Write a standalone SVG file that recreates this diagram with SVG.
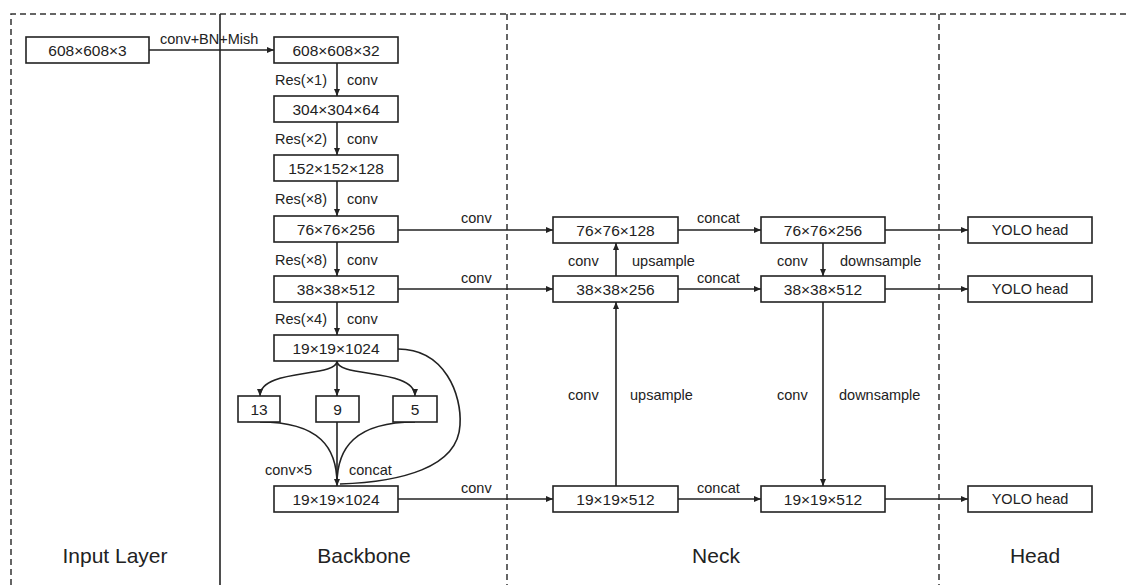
<svg xmlns="http://www.w3.org/2000/svg" width="1126" height="585" viewBox="0 0 1126 585">
<defs>
<marker id="ah" markerWidth="7" markerHeight="6" refX="7" refY="3" orient="auto" markerUnits="userSpaceOnUse"><path d="M0,0 L7,3 L0,6 z" fill="#222"/></marker>
<style>
.box{fill:#fff;stroke:#222;stroke-width:1.6}
.bt{font-family:"Liberation Sans",Arial,sans-serif;font-size:15.5px;fill:#222;text-anchor:middle}
.yh{font-size:14.5px}
.lb{font-family:"Liberation Sans",Arial,sans-serif;font-size:14.5px;fill:#222}
.sec{font-family:"Liberation Sans",Arial,sans-serif;font-size:21px;fill:#222;text-anchor:middle}
.c{fill:none;stroke:#222;stroke-width:1.6}
.ca{fill:none;stroke:#222;stroke-width:1.6;marker-end:url(#ah)}
.dash{fill:none;stroke:#333;stroke-width:1.5;stroke-dasharray:6 4}
</style>
</defs>
<rect width="1126" height="585" fill="#fff"/>
<g id="frame">
<path class="dash" d="M11,585 L11,14 L1126,14"/>
<line x1="220" y1="14" x2="220" y2="585" stroke="#222" stroke-width="1.6"/>
<line class="dash" x1="507" y1="14" x2="507" y2="585"/>
<line class="dash" x1="939" y1="14" x2="939" y2="585"/>
</g>
<g id="connectors">
<line class="ca" x1="149" y1="50" x2="274" y2="50"/>
<line class="ca" x1="337" y1="63" x2="337" y2="96"/>
<line class="ca" x1="337" y1="122" x2="337" y2="155"/>
<line class="ca" x1="337" y1="181" x2="337" y2="216"/>
<line class="ca" x1="337" y1="242" x2="337" y2="276"/>
<line class="ca" x1="337" y1="302" x2="337" y2="335"/>
<line class="ca" x1="398" y1="230" x2="553" y2="230"/>
<line class="ca" x1="398" y1="289" x2="553" y2="289"/>
<line class="ca" x1="398" y1="499" x2="553" y2="499"/>
<line class="ca" x1="678" y1="230" x2="761" y2="230"/>
<line class="ca" x1="678" y1="289" x2="761" y2="289"/>
<line class="ca" x1="678" y1="499" x2="761" y2="499"/>
<line class="ca" x1="885" y1="230" x2="968" y2="230"/>
<line class="ca" x1="885" y1="289" x2="968" y2="289"/>
<line class="ca" x1="885" y1="499" x2="968" y2="499"/>
<line class="ca" x1="616" y1="486" x2="616" y2="302"/>
<line class="ca" x1="616" y1="276" x2="616" y2="243"/>
<line class="ca" x1="823" y1="243" x2="823" y2="276"/>
<line class="ca" x1="823" y1="302" x2="823" y2="486"/>
<path class="ca" d="M337,361 C337,378 260,368 260,396"/>
<path class="ca" d="M337,361 L337,396"/>
<path class="ca" d="M337,361 C337,378 415,368 415,396"/>
<path class="c" d="M260,422 C320,422 337,448 337,484"/>
<path class="c" d="M415,422 C355,422 337,448 337,484"/>
<path class="c" d="M337,422 L337,484"/>
<path class="c" d="M398,349 C445,349 462,395 460,425 C458,468 400,482 340,484"/>
<line class="ca" x1="337" y1="478" x2="337" y2="486"/>
</g>
<g id="n-input"><rect class="box" x="26" y="37" width="123" height="26"/><text class="bt" x="87.5" y="55.5">608×608×3</text></g>
<g id="n-b1"><rect class="box" x="274" y="37" width="124" height="26"/><text class="bt" x="336" y="55.5">608×608×32</text></g>
<g id="n-b2"><rect class="box" x="274" y="96" width="124" height="26"/><text class="bt" x="336" y="114.5">304×304×64</text></g>
<g id="n-b3"><rect class="box" x="274" y="155" width="124" height="26"/><text class="bt" x="336" y="173.5">152×152×128</text></g>
<g id="n-b4"><rect class="box" x="274" y="216" width="124" height="26"/><text class="bt" x="336" y="234.5">76×76×256</text></g>
<g id="n-b5"><rect class="box" x="274" y="276" width="124" height="26"/><text class="bt" x="336" y="294.5">38×38×512</text></g>
<g id="n-b6"><rect class="box" x="274" y="335" width="124" height="26"/><text class="bt" x="336" y="353.5">19×19×1024</text></g>
<g id="n-p13"><rect class="box" x="238" y="396" width="42" height="26"/><text class="bt" x="259" y="414.5">13</text></g>
<g id="n-p9"><rect class="box" x="316" y="396" width="43" height="26"/><text class="bt" x="337.5" y="414.5">9</text></g>
<g id="n-p5"><rect class="box" x="393" y="396" width="44" height="26"/><text class="bt" x="415" y="414.5">5</text></g>
<g id="n-b7"><rect class="box" x="274" y="486" width="124" height="26"/><text class="bt" x="336" y="504.5">19×19×1024</text></g>
<g id="n-n1"><rect class="box" x="553" y="217" width="125" height="26"/><text class="bt" x="615.5" y="235.5">76×76×128</text></g>
<g id="n-n2"><rect class="box" x="553" y="276" width="125" height="26"/><text class="bt" x="615.5" y="294.5">38×38×256</text></g>
<g id="n-n3"><rect class="box" x="553" y="486" width="125" height="26"/><text class="bt" x="615.5" y="504.5">19×19×512</text></g>
<g id="n-n4"><rect class="box" x="761" y="217" width="124" height="26"/><text class="bt" x="823" y="235.5">76×76×256</text></g>
<g id="n-n5"><rect class="box" x="761" y="276" width="124" height="26"/><text class="bt" x="823" y="294.5">38×38×512</text></g>
<g id="n-n6"><rect class="box" x="761" y="486" width="124" height="26"/><text class="bt" x="823" y="504.5">19×19×512</text></g>
<g id="n-h1"><rect class="box" x="968" y="217" width="124" height="26"/><text class="bt yh" x="1030" y="235">YOLO head</text></g>
<g id="n-h2"><rect class="box" x="968" y="276" width="124" height="26"/><text class="bt yh" x="1030" y="294">YOLO head</text></g>
<g id="n-h3"><rect class="box" x="968" y="486" width="124" height="26"/><text class="bt yh" x="1030" y="504">YOLO head</text></g>
<g id="labels">
<text class="lb" x="160" y="44">conv+BN+Mish</text>
<text class="lb" x="327" y="85" text-anchor="end">Res(×1)</text><text class="lb" x="347" y="85">conv</text>
<text class="lb" x="327" y="144" text-anchor="end">Res(×2)</text><text class="lb" x="347" y="144">conv</text>
<text class="lb" x="327" y="204" text-anchor="end">Res(×8)</text><text class="lb" x="347" y="204">conv</text>
<text class="lb" x="327" y="265" text-anchor="end">Res(×8)</text><text class="lb" x="347" y="265">conv</text>
<text class="lb" x="327" y="324" text-anchor="end">Res(×4)</text><text class="lb" x="347" y="324">conv</text>
<text class="lb" x="265" y="475">conv×5</text>
<text class="lb" x="349" y="475">concat</text>
<text class="lb" x="461" y="223">conv</text>
<text class="lb" x="461" y="283">conv</text>
<text class="lb" x="461" y="493">conv</text>
<text class="lb" x="697" y="223">concat</text>
<text class="lb" x="697" y="283">concat</text>
<text class="lb" x="697" y="493">concat</text>
<text class="lb" x="568" y="266">conv</text><text class="lb" x="632" y="266">upsample</text>
<text class="lb" x="777" y="266">conv</text><text class="lb" x="840" y="266">downsample</text>
<text class="lb" x="568" y="400">conv</text><text class="lb" x="630" y="400">upsample</text>
<text class="lb" x="777" y="400">conv</text><text class="lb" x="839" y="400">downsample</text>
<text class="sec" x="115" y="563">Input Layer</text>
<text class="sec" x="364" y="563">Backbone</text>
<text class="sec" x="716" y="563">Neck</text>
<text class="sec" x="1035" y="563">Head</text>
</g>
</svg>
